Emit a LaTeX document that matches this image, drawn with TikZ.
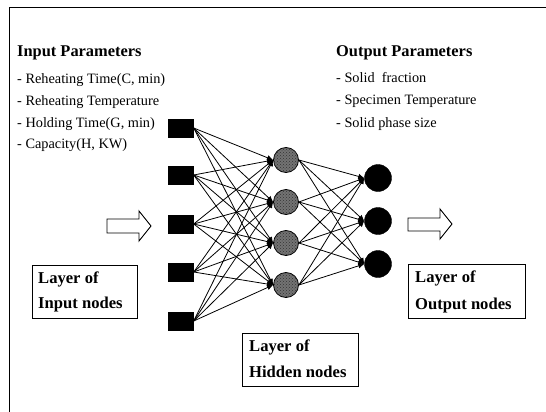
\documentclass[tikz,border=0pt]{standalone}
\usepackage{fontspec}
\setmainfont{Liberation Serif}
\usetikzlibrary{arrows.meta,patterns}
\begin{document}
\begin{tikzpicture}[x=1pt,y=-1pt,
  inunit/.style={draw=black,fill=black,minimum width=25pt,minimum height=18pt,inner sep=0pt},
  hidunit/.style={circle,draw=black,line width=0.8pt,fill=black!55,
    postaction={pattern=crosshatch dots,pattern color=black!80},minimum size=25pt,inner sep=0pt},
  outunit/.style={circle,draw=black,fill=black,minimum size=27pt,inner sep=0pt},
  link/.style={line width=0.8pt,-{Latex[length=6pt,width=5.5pt]}},
  heading/.style={anchor=base west,inner sep=0pt,font=\fontsize{16.4}{18}\selectfont\bfseries},
  item/.style={anchor=base west,inner sep=0pt,font=\fontsize{14.3}{16}\selectfont},
  layerbox/.style={draw=black,line width=0.8pt},
  layertext/.style={anchor=base west,inner sep=0pt,font=\fontsize{16.6}{18}\selectfont\bfseries},
  blockarrow/.style={draw=black,line width=0.9pt,fill=white}]
\useasboundingbox (0,0) rectangle (546,412);

% frame
\draw[line width=1pt] (9,412) -- (9,8) -- (546,8);

% parameter lists
\node[heading] (inhead) at (17,57) {Input Parameters};
\node[item] (in1) at (17,83) {- Reheating Time(C, min)};
\node[item] (in2) at (17,105) {- Reheating Temperature};
\node[item] (in3) at (17,127) {- Holding Time(G, min)};
\node[item] (in4) at (17,148) {- Capacity(H, KW)};

\node[heading] (outhead) at (336,57) {Output Parameters};
\node[item] (out1) at (336,82) {- Solid\ \ fraction};
\node[item] (out2) at (336,104) {- Specimen Temperature};
\node[item] (out3) at (336,127) {- Solid phase size};

% network units
\foreach \i/\y in {1/128,2/175,3/224,4/272,5/321}
  \node[inunit] (i\i) at (181,\y) {};
\foreach \j/\y in {1/160,2/202,3/243,4/285}
  \node[hidunit] (h\j) at (286,\y) {};
\foreach \k/\y in {1/178,2/221,3/264}
  \node[outunit] (o\k) at (378,\y) {};

% weighted links
\foreach \i in {1,...,5}
  \foreach \j in {1,...,4}
    \draw[link] (i\i.east) -- (h\j.west);
\foreach \j in {1,...,4}
  \foreach \k in {1,...,3}
    \draw[link] (h\j.east) -- (o\k.west);

% hollow flow arrows
\draw[blockarrow] (107,219) -- (139,219) -- (139,211) -- (151,226) -- (139,241) -- (139,233) -- (107,233) -- cycle;
\draw[blockarrow] (408,218) -- (440,218) -- (440,209) -- (452,224) -- (440,239) -- (440,231) -- (408,231) -- cycle;

% layer labels
\draw[layerbox] (32,265) rectangle (137,318);
\node[layertext] (inlayer1) at (38,283) {Layer of};
\node[layertext] (inlayer2) at (38,308) {Input nodes};

\draw[layerbox] (242,333) rectangle (358,386);
\node[layertext] (hidlayer1) at (249,351) {Layer of};
\node[layertext] (hidlayer2) at (249,377) {Hidden nodes};

\draw[layerbox] (408,264) rectangle (525,318);
\node[layertext] (outlayer1) at (415,282) {Layer of};
\node[layertext] (outlayer2) at (415,309) {Output nodes};
\end{tikzpicture}
\end{document}
